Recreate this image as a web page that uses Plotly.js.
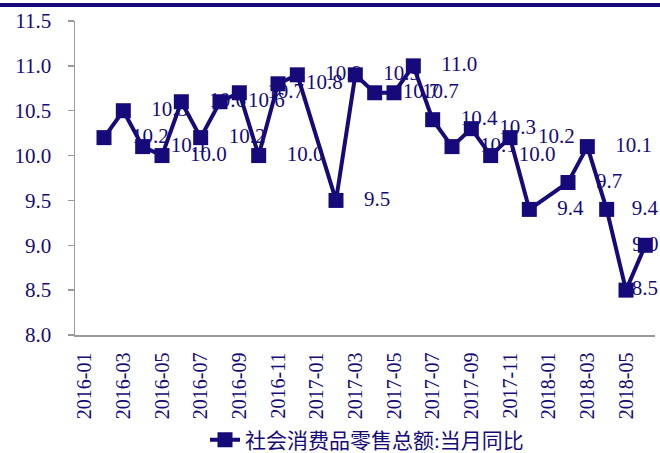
<!DOCTYPE html>
<html><head><meta charset="utf-8">
<script src="https://cdn.plot.ly/plotly-3.0.1.min.js"></script>
<style>html,body{margin:0;padding:0;background:#fff}#chart{width:660px;height:453px}</style>
</head><body><div id="chart"></div>
<script>
const months = ['2016-01','2016-02','2016-03','2016-04','2016-05','2016-06','2016-07','2016-08','2016-09','2016-10','2016-11','2016-12',
  '2017-01','2017-02','2017-03','2017-04','2017-05','2017-06','2017-07','2017-08','2017-09','2017-10','2017-11','2017-12',
  '2018-01','2018-02','2018-03','2018-04','2018-05','2018-06'];
const retailYoY = [null,10.2,10.5,10.1,10.0,10.6,10.2,10.6,10.7,10.0,10.8,10.9,
  null,9.5,10.9,10.7,10.7,11.0,10.4,10.1,10.3,10.0,10.2,9.4,
  null,9.7,10.1,9.4,8.5,9.0];
const tickLabels = months.filter((m, i) => i % 2 === 0);
const yTicks = [8.0, 8.5, 9.0, 9.5, 10.0, 10.5, 11.0, 11.5];
const seriesName = '社会消费品零售总额:当月同比';

const NAVY = '#160a7a';
const GRAY = '#9a9a9a';
const SERIF = '"Liberation Serif", "Times New Roman", serif';
const CJK = '"Liberation Serif", "Noto Sans CJK SC", serif';

const W = 660, H = 453;
const M = {l: 75, r: 5, t: 21, b: 118};
const plotW = W - M.l - M.r;
const n = months.length;
const catW = plotW / n;
const LABEL_FONT = 21;
const LABEL_GAP = 28;      // distance from point centre to label start
const RIGHT_LIMIT = plotW + 3;

const boundaries = [];
for (let i = 0; i < n; i += 2) boundaries.push(i - 0.5);
boundaries.push(n - 0.5);

// label placement: right of the point, pulled back inside the chart at the right edge
const labelText = retailYoY.map(v => v == null ? '' : v.toFixed(1));
const labelPos = [], labelSize = [];
labelText.forEach((t, i) => {
  const w = [...t].reduce((s, c) => s + (c === '.' ? 0.25 : 0.5) * LABEL_FONT, 0);
  const c = (i + 0.5) * catW;
  let start = c + LABEL_GAP;
  if (start + w > RIGHT_LIMIT) start = RIGHT_LIMIT - w;
  const d = start - c;
  if (d > 1.5) { labelPos.push('middle right'); labelSize.push(2 * 0.8 * (d - 1)); }
  else { labelPos.push('middle center'); labelSize.push(2); }
});

const labelTrace = {
  x: months, y: retailYoY, text: labelText,
  mode: 'markers+text', textposition: labelPos,
  marker: {size: labelSize, color: 'rgba(0,0,0,0)'},
  textfont: {family: SERIF, size: LABEL_FONT, color: NAVY},
  showlegend: false, hoverinfo: 'skip', cliponaxis: false,
  xaxis: 'x', yaxis: 'y'
};
const lineTrace = {
  x: months, y: retailYoY, name: seriesName,
  mode: 'lines+markers', connectgaps: true,
  line: {color: NAVY, width: 4},
  marker: {symbol: 'square', size: 15, color: NAVY},
  cliponaxis: false,
  xaxis: 'x', yaxis: 'y'
};

const layout = {
  width: W, height: H, margin: M,
  paper_bgcolor: '#fff', plot_bgcolor: '#fff',
  showlegend: true,
  xaxis: {
    type: 'category', categoryorder: 'array', categoryarray: months,
    range: [-0.5, n - 0.5],
    tickmode: 'array', tickvals: tickLabels, ticktext: tickLabels,
    tickangle: -90, ticks: '', ticklabelstandoff: 8,
    tickfont: {family: SERIF, size: 20, color: NAVY},
    showline: true, linecolor: GRAY, linewidth: 1.5,
    showgrid: false, zeroline: false, fixedrange: true, automargin: false
  },
  xaxis2: {
    type: 'linear', overlaying: 'x', anchor: 'y', side: 'bottom',
    range: [-0.5, n - 0.5],
    tickmode: 'array', tickvals: boundaries,
    ticks: 'outside', ticklen: 7, tickwidth: 1.5, tickcolor: GRAY,
    showticklabels: false, showline: false, showgrid: false, zeroline: false, fixedrange: true
  },
  yaxis: {
    range: [8, 11.5], tickmode: 'array', tickvals: yTicks,
    ticktext: yTicks.map(v => v.toFixed(1)),
    ticks: 'outside', ticklen: 6, tickwidth: 1.5, tickcolor: GRAY,
    ticklabelstandoff: 12,
    tickfont: {family: SERIF, size: 21, color: NAVY},
    showline: true, linecolor: GRAY, linewidth: 1.5,
    showgrid: false, zeroline: false, fixedrange: true, automargin: false
  },
  legend: {
    orientation: 'h', xref: 'container', yref: 'container',
    x: 205 / W, xanchor: 'left', y: (H - 440) / H, yanchor: 'middle',
    font: {family: CJK, size: 21, color: NAVY},
    bgcolor: 'rgba(0,0,0,0)'
  },
  shapes: [{
    type: 'line', xref: 'paper', yref: 'paper',
    x0: -M.l / plotW, x1: (W - M.l) / plotW, y0: (H - M.b - 5) / (H - M.t - M.b), y1: (H - M.b - 5) / (H - M.t - M.b),
    line: {color: NAVY, width: 4}
  }]
};

Plotly.newPlot('chart', [labelTrace, lineTrace], layout, {displayModeBar: false, staticPlot: true});
</script>
</body></html>
